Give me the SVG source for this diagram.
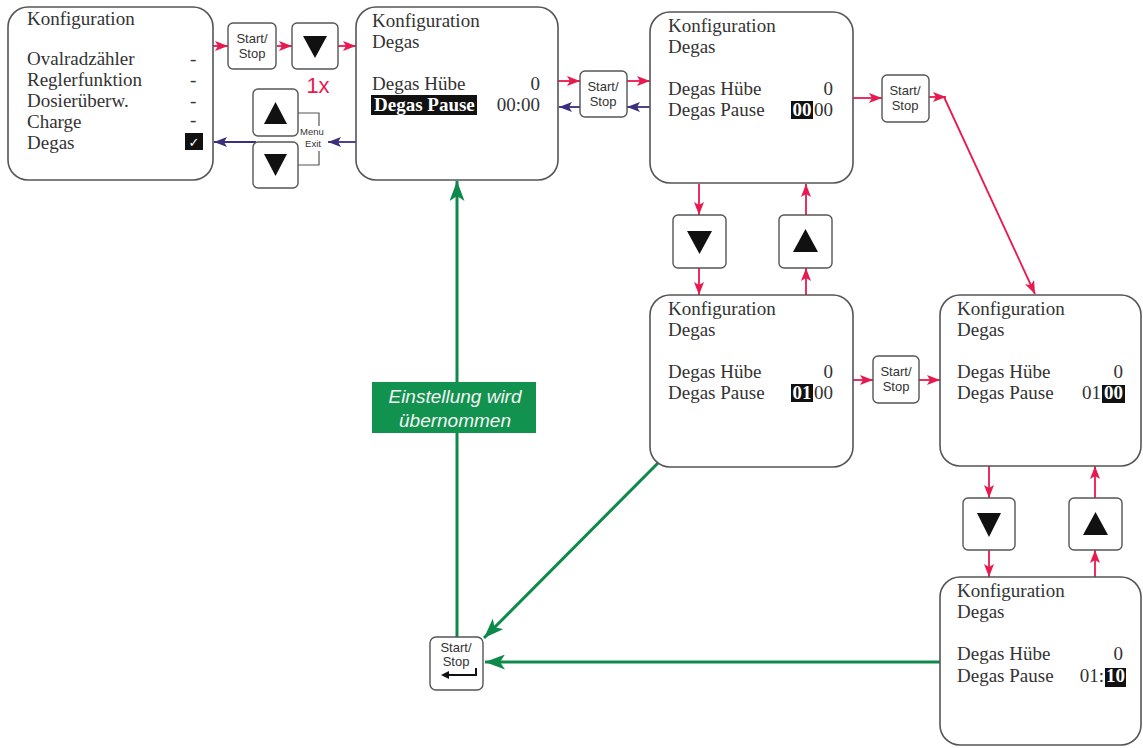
<svg xmlns="http://www.w3.org/2000/svg" width="1143" height="748" viewBox="0 0 1143 748">
<style>
.node{fill:#fff;stroke:#555;stroke-width:1.6}
.btn{fill:#fff;stroke:#555;stroke-width:1.4}
.t{font-family:"Liberation Serif",serif;font-size:19px;fill:#333}
.tb{font-family:"Liberation Serif",serif;font-size:19px;fill:#fff;font-weight:bold}
.s{font-family:"Liberation Sans",sans-serif;font-size:13px;fill:#333;text-anchor:middle}
.m{font-family:"Liberation Sans",sans-serif;font-size:9.5px;fill:#333;text-anchor:middle}
.r{stroke:#e8194f;stroke-width:1.8;fill:none}
.b{stroke:#3b2f7d;stroke-width:1.8;fill:none}
.g{stroke:#0d8a4a;stroke-width:3;fill:none}
.tri{fill:#111}
</style>
<defs>
<marker id="ar" markerUnits="userSpaceOnUse" markerWidth="13" markerHeight="10" refX="13" refY="5" orient="auto"><path d="M0,0 L13,5 L0,10 L3,5 Z" fill="#e8194f"/></marker>
<marker id="ab" markerUnits="userSpaceOnUse" markerWidth="13" markerHeight="10" refX="13" refY="5" orient="auto"><path d="M0,0 L13,5 L0,10 L3,5 Z" fill="#3b2f7d"/></marker>
<marker id="ag" markerUnits="userSpaceOnUse" markerWidth="20" markerHeight="15" refX="20" refY="7.5" orient="auto"><path d="M0,0 L20,7.5 L0,15 L5,7.5 Z" fill="#0d8a4a"/></marker>
</defs>
<rect width="1143" height="748" fill="#fff"/>

<g id="connectors">
<line class="r" x1="213" y1="46" x2="228" y2="46" marker-end="url(#ar)"/>
<line class="r" x1="277" y1="46" x2="292" y2="46" marker-end="url(#ar)"/>
<line class="r" x1="338" y1="46" x2="356" y2="46" marker-end="url(#ar)"/>
<line class="b" x1="356" y1="142" x2="328" y2="142" marker-end="url(#ab)"/>
<line class="b" x1="256" y1="142" x2="214" y2="142" marker-end="url(#ab)"/>
<polyline points="298,113 319,113 319,126" fill="none" stroke="#555" stroke-width="1.2"/>
<polyline points="298,165 319,165 319,151" fill="none" stroke="#555" stroke-width="1.2"/>
<line class="r" x1="558" y1="81" x2="580" y2="81" marker-end="url(#ar)"/>
<line class="r" x1="627" y1="81" x2="650" y2="81" marker-end="url(#ar)"/>
<line class="b" x1="650" y1="107" x2="627" y2="107" marker-end="url(#ab)"/>
<line class="b" x1="580" y1="107" x2="559" y2="107" marker-end="url(#ab)"/>
<line class="r" x1="853" y1="98" x2="882" y2="98" marker-end="url(#ar)"/>
<line class="r" x1="929" y1="97" x2="946" y2="97" marker-end="url(#ar)"/>
<line class="r" x1="944" y1="97" x2="1035" y2="294" marker-end="url(#ar)"/>
<line class="r" x1="699" y1="184" x2="699" y2="215" marker-end="url(#ar)"/>
<line class="r" x1="699" y1="268" x2="699" y2="295" marker-end="url(#ar)"/>
<line class="r" x1="806" y1="295" x2="806" y2="268" marker-end="url(#ar)"/>
<line class="r" x1="806" y1="215" x2="806" y2="184" marker-end="url(#ar)"/>
<line class="r" x1="853" y1="380" x2="873" y2="380" marker-end="url(#ar)"/>
<line class="r" x1="919" y1="380" x2="940" y2="380" marker-end="url(#ar)"/>
<line class="r" x1="989" y1="466" x2="989" y2="498" marker-end="url(#ar)"/>
<line class="r" x1="989" y1="550" x2="989" y2="577" marker-end="url(#ar)"/>
<line class="r" x1="1095" y1="577" x2="1095" y2="550" marker-end="url(#ar)"/>
<line class="r" x1="1095" y1="498" x2="1095" y2="466" marker-end="url(#ar)"/>
<line class="g" x1="457" y1="637" x2="457" y2="181" marker-end="url(#ag)"/>
<line class="g" x1="658" y1="463" x2="484" y2="638" marker-end="url(#ag)"/>
<line class="g" x1="940" y1="662" x2="485" y2="662" marker-end="url(#ag)"/>
</g>

<g id="node-menu">
<rect class="node" x="8" y="7" width="205" height="173" rx="20"/>
<text class="t" x="27" y="25">Konfiguration</text>
<text class="t" x="27" y="65">Ovalradzähler</text>
<text class="t" x="27" y="86">Reglerfunktion</text>
<text class="t" x="27" y="107">Dosierüberw.</text>
<text class="t" x="27" y="128">Charge</text>
<text class="t" x="27" y="149">Degas</text>
<text class="t" x="190" y="65">-</text>
<text class="t" x="190" y="86">-</text>
<text class="t" x="190" y="107">-</text>
<text class="t" x="190" y="126">-</text>
<rect x="185" y="133" width="18" height="17" fill="#111"/>
<text x="194" y="147" font-family="DejaVu Sans,sans-serif" font-size="13" fill="#fff" text-anchor="middle">✓</text>
</g>

<g id="btn-startstop-1">
<rect class="btn" x="228" y="23" width="48" height="46" rx="5"/>
<text class="s" x="252" y="43">Start/</text>
<text class="s" x="252" y="58">Stop</text>
</g>
<g id="btn-down-1">
<rect class="btn" x="292" y="23" width="46" height="46" rx="5"/>
<polygon class="tri" points="303,36 327,36 315,58"/>
</g>
<text x="318" y="93" font-family="Liberation Sans,sans-serif" font-size="22" fill="#e8194f" text-anchor="middle">1x</text>

<g id="btn-up-menu">
<rect class="btn" x="253" y="89" width="45" height="47" rx="5"/>
<polygon class="tri" points="264,124 287,124 275.5,102"/>
</g>
<g id="btn-down-menu">
<rect class="btn" x="253" y="142" width="45" height="46" rx="5"/>
<polygon class="tri" points="264,154 287,154 275.5,176"/>
</g>
<g id="label-menu-exit">
<text class="m" x="312" y="135">Menu</text>
<text class="m" x="313" y="147">Exit</text>
</g>

<g id="node-2">
<rect class="node" x="356" y="7" width="202" height="173" rx="20"/>
<text class="t" x="372" y="27">Konfiguration</text>
<text class="t" x="372" y="48">Degas</text>
<text class="t" x="372" y="90">Degas Hübe</text>
<text class="t" x="540" y="90" text-anchor="end">0</text>
<rect x="371" y="95" width="106" height="20" fill="#111"/>
<text class="tb" x="374" y="111">Degas Pause</text>
<text class="t" x="540" y="111" text-anchor="end">00:00</text>
</g>

<g id="btn-startstop-2">
<rect class="btn" x="580" y="71" width="47" height="46" rx="5"/>
<text class="s" x="603" y="91">Start/</text>
<text class="s" x="603" y="106">Stop</text>
</g>

<g id="node-3">
<rect class="node" x="650" y="12" width="203" height="171" rx="20"/>
<text class="t" x="668" y="32">Konfiguration</text>
<text class="t" x="668" y="53">Degas</text>
<text class="t" x="668" y="95">Degas Hübe</text>
<text class="t" x="833" y="95" text-anchor="end">0</text>
<text class="t" x="668" y="116">Degas Pause</text>
<rect x="791" y="101" width="22" height="18" fill="#111"/>
<text class="tb" x="802" y="116" text-anchor="middle">00</text>
<text class="t" x="833" y="116" text-anchor="end">00</text>
</g>

<g id="btn-startstop-3">
<rect class="btn" x="882" y="75" width="47" height="47" rx="5"/>
<text class="s" x="905" y="95">Start/</text>
<text class="s" x="905" y="110">Stop</text>
</g>

<g id="btn-down-3">
<rect class="btn" x="673" y="215" width="53" height="53" rx="5"/>
<polygon class="tri" points="687,231 712,231 699.5,254"/>
</g>
<g id="btn-up-3">
<rect class="btn" x="779" y="215" width="53" height="53" rx="5"/>
<polygon class="tri" points="793,252 818,252 805.5,229"/>
</g>

<g id="node-4">
<rect class="node" x="650" y="295" width="203" height="172" rx="20"/>
<text class="t" x="668" y="315">Konfiguration</text>
<text class="t" x="668" y="336">Degas</text>
<text class="t" x="668" y="378">Degas Hübe</text>
<text class="t" x="833" y="378" text-anchor="end">0</text>
<text class="t" x="668" y="399">Degas Pause</text>
<rect x="791" y="384" width="22" height="18" fill="#111"/>
<text class="tb" x="802" y="399" text-anchor="middle">01</text>
<text class="t" x="833" y="399" text-anchor="end">00</text>
</g>

<g id="btn-startstop-4">
<rect class="btn" x="873" y="356" width="46" height="47" rx="5"/>
<text class="s" x="896" y="376">Start/</text>
<text class="s" x="896" y="391">Stop</text>
</g>

<g id="node-5">
<rect class="node" x="940" y="295" width="201" height="171" rx="20"/>
<text class="t" x="957" y="315">Konfiguration</text>
<text class="t" x="957" y="336">Degas</text>
<text class="t" x="957" y="378">Degas Hübe</text>
<text class="t" x="1123" y="378" text-anchor="end">0</text>
<text class="t" x="957" y="399">Degas Pause</text>
<text class="t" x="1101" y="399" text-anchor="end">01</text>
<rect x="1102" y="385" width="23" height="18" fill="#111"/>
<text class="tb" x="1113.5" y="399" text-anchor="middle">00</text>
</g>

<g id="btn-down-5">
<rect class="btn" x="963" y="498" width="52" height="52" rx="5"/>
<polygon class="tri" points="977,513 1001,513 989,537"/>
</g>
<g id="btn-up-5">
<rect class="btn" x="1069" y="498" width="53" height="52" rx="5"/>
<polygon class="tri" points="1083,535 1108,535 1095.5,512"/>
</g>

<g id="node-6">
<rect class="node" x="940" y="577" width="201" height="168" rx="20"/>
<text class="t" x="957" y="597">Konfiguration</text>
<text class="t" x="957" y="618">Degas</text>
<text class="t" x="957" y="660">Degas Hübe</text>
<text class="t" x="1123" y="660" text-anchor="end">0</text>
<text class="t" x="957" y="682">Degas Pause</text>
<text class="t" x="1104" y="682" text-anchor="end">01:</text>
<rect x="1105" y="668" width="21" height="19" fill="#111"/>
<text class="tb" x="1115.5" y="682" text-anchor="middle">10</text>
</g>

<g id="label-einstellung">
<rect x="372" y="382" width="164" height="51" fill="#12924f"/>
<text x="455" y="403" font-family="Liberation Sans,sans-serif" font-size="19" font-style="italic" fill="#f4f4f4" text-anchor="middle">Einstellung wird</text>
<text x="455" y="427" font-family="Liberation Sans,sans-serif" font-size="19" font-style="italic" fill="#f4f4f4" text-anchor="middle">übernommen</text>
</g>

<g id="btn-enter">
<rect class="btn" x="430" y="637" width="53" height="53" rx="6"/>
<text class="s" x="456" y="652">Start/</text>
<text class="s" x="456" y="666">Stop</text>
<polyline points="476,668 476,675 446,675" fill="none" stroke="#111" stroke-width="2"/>
<polygon points="441,675 449,671 449,679" fill="#111"/>
</g>
</svg>
